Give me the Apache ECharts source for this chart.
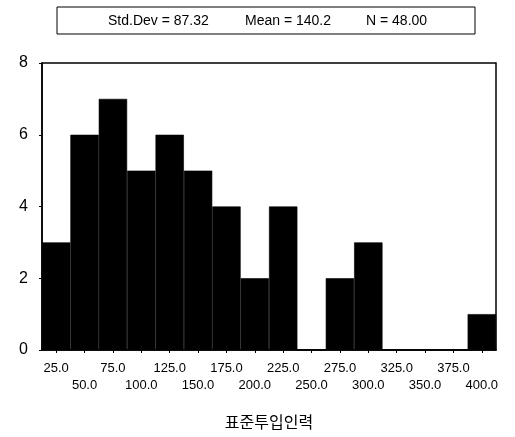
<!DOCTYPE html>
<html><head><meta charset="utf-8">
<script src="https://cdn.jsdelivr.net/npm/echarts@6/dist/echarts.min.js"></script>
<style>html,body{margin:0;padding:0;background:#fff}#c{width:515px;height:437px}</style>
</head><body><div id="c"></div>
<script>
const categories = ['25.0','50.0','75.0','100.0','125.0','150.0','175.0','200.0','225.0','250.0','275.0','300.0','325.0','350.0','375.0','400.0'];
const counts = [3,6,7,5,6,5,4,2,4,0,2,3,0,0,0,1];
const yTicks = [0,2,4,6,8];
const statsParts = ['Std.Dev = 87.32','Mean = 140.2','N = 48.00'];
const axisTitle = '표준투입인력';

const statFont = '14px "Liberation Sans", Arial, sans-serif';
const statX = [108, 245, 366];
const chart = echarts.init(document.getElementById('c'), null, {renderer:'canvas'});
chart.setOption({
  animation:false,
  backgroundColor:'#fff',
  grid:{left:42,right:19,top:63,bottom:87,show:true,borderColor:'#000',borderWidth:1.5},
  graphic:[
    {type:'rect',shape:{x:57,y:7,width:418,height:27},style:{fill:'#fff',stroke:'#000',lineWidth:1}}
  ].concat(statsParts.map((t,i)=>({type:'text',x:statX[i],y:21,style:{text:t,font:statFont,fill:'#000',textAlign:'left',textVerticalAlign:'middle'}}))),
  xAxis:{
    type:'category',data:categories,
    name:axisTitle,nameLocation:'middle',nameGap:64,
    nameTextStyle:{fontSize:16,color:'#000',fontFamily:'"Noto Sans CJK KR", sans-serif'},
    axisLine:{lineStyle:{color:'#000',width:1.5}},
    axisTick:{show:true,alignWithLabel:true,length:3,lineStyle:{color:'#000'}},
    axisLabel:{interval:0,margin:10,color:'#000',fontSize:13,lineHeight:17,fontFamily:'"Liberation Sans", Arial, sans-serif',
      formatter:(v,i)=> i%2===1 ? '\n'+v : v}
  },
  yAxis:{
    type:'value',min:yTicks[0],max:yTicks[yTicks.length-1],interval:2,
    axisLine:{show:true,lineStyle:{color:'#000',width:1.5}},
    axisTick:{show:true,length:3,lineStyle:{color:'#000'}},
    splitLine:{show:false},
    axisLabel:{margin:14,color:'#000',fontSize:16,fontFamily:'"Liberation Sans", Arial, sans-serif'}
  },
  series:[{type:'bar',data:counts,barCategoryGap:'0%',itemStyle:{color:'#000',borderColor:'#000',borderWidth:0.6}}]
});
</script></body></html>
